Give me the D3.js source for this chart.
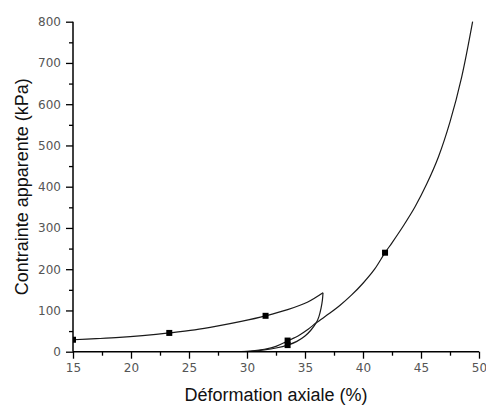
<!DOCTYPE html>
<html>
<head>
<meta charset="utf-8">
<script src="https://cdn.jsdelivr.net/npm/d3@7"></script>
<style>
html,body{margin:0;padding:0;background:#fff;}
svg{display:block;}
</style>
</head>
<body>
<svg id="chart" width="486" height="407"></svg>
<script>
// Loading curve (first cycle)
const loading1X = [15, 17, 19, 21, 23.3, 25.5, 27.4, 29.5, 31.6, 33.5, 35.2, 36.55];
const loading1Y = [29, 31.5, 34.5, 39, 45.5, 53, 62, 73.5, 87, 102, 120, 143];
// Unloading curve
const unloadX = [29.5, 30.5, 31.5, 32.5, 33.5, 34.3, 35, 35.5, 35.97, 36.2, 36.38, 36.5, 36.55];
const unloadY = [0, 1.5, 4.5, 9, 16, 25, 38, 52, 70, 85, 105, 125, 143];
// Reloading / final loading curve
const reloadX = [29.5, 30.5, 31.5, 32.5, 33.5, 34.5, 35.3, 35.97, 37.12, 38, 39, 40, 41, 41.9, 42.5, 43.5, 44.5, 45.5, 46.5, 47.5, 48.5, 49.45];
const reloadY = [0, 2, 6, 13, 26, 40, 55, 70, 93, 112, 137, 166, 200, 240, 264, 306, 352, 407, 472, 557, 665, 800];
// Markers
const markerX = [15, 23.3, 31.6, 33.5, 33.5, 41.9];
const markerY = [29, 45.5, 87, 16, 27, 240];

const xTicks = [15, 20, 25, 30, 35, 40, 45, 50];
const xMinor = [17.5, 22.5, 27.5, 32.5, 37.5, 42.5, 47.5];
const yTicks = [0, 100, 200, 300, 400, 500, 600, 700, 800];
const yMinor = [50, 150, 250, 350, 450, 550, 650, 750];

const svg = d3.select("#chart");
const mLeft = 73, mRight = 479, mTop = 21.7, mBottom = 351.7;
const x = d3.scaleLinear().domain([15, 50]).range([mLeft, mRight]);
const y = d3.scaleLinear().domain([0, 800]).range([mBottom, mTop]);

svg.append("defs").append("clipPath").attr("id", "clip")
  .append("rect").attr("x", mLeft).attr("y", 0).attr("width", mRight - mLeft + 10).attr("height", mBottom);

const g = svg.append("g").attr("clip-path", "url(#clip)");
const line = d3.line().x(d => x(d[0])).y(d => y(d[1])).curve(d3.curveCatmullRom.alpha(0.5));
const series = [
  d3.zip(loading1X, loading1Y),
  d3.zip(unloadX, unloadY),
  d3.zip(reloadX, reloadY)
];
g.selectAll("path.s").data(series).join("path")
  .attr("class", "s")
  .attr("d", line)
  .attr("fill", "none")
  .attr("stroke", "#1a1a1a")
  .attr("stroke-width", 1.2);

g.selectAll("rect.m").data(d3.zip(markerX, markerY)).join("rect")
  .attr("class", "m")
  .attr("x", d => x(d[0]) - 3)
  .attr("y", d => y(d[1]) - 3)
  .attr("width", 6).attr("height", 6)
  .attr("fill", "#000");

// Axes
const fontTick = "'DejaVu Sans', sans-serif";
const xAxis = d3.axisBottom(x).tickValues(xTicks).tickSize(7).tickPadding(5).tickFormat(d3.format("d"));
const xg = svg.append("g").attr("transform", `translate(0,${mBottom})`).call(xAxis);
const xmg = svg.append("g").attr("transform", `translate(0,${mBottom})`)
  .call(d3.axisBottom(x).tickValues(xMinor).tickSize(4).tickFormat(""));
xmg.select(".domain").remove();

const yAxis = d3.axisLeft(y).tickValues(yTicks).tickSize(7).tickPadding(5).tickFormat(d3.format("d"));
const yg = svg.append("g").attr("transform", `translate(${mLeft},0)`).call(yAxis);
const ymg = svg.append("g").attr("transform", `translate(${mLeft},0)`)
  .call(d3.axisLeft(y).tickValues(yMinor).tickSize(4).tickFormat(""));
ymg.select(".domain").remove();

[xg, yg].forEach(a => {
  a.select(".domain").attr("stroke", "#000").attr("stroke-width", 1.5);
  a.selectAll(".tick line").attr("stroke", "#000").attr("stroke-width", 1.3);
  a.selectAll(".tick text").attr("font-family", fontTick).attr("font-size", 12).attr("fill", "#555");
});
[xmg, ymg].forEach(a => a.selectAll(".tick line").attr("stroke", "#000").attr("stroke-width", 1.3));
xg.select(".domain").attr("d", `M${mLeft},0H${mRight}`);
yg.select(".domain").attr("d", `M0,${mBottom}V${mTop}`);

// Titles
svg.append("text")
  .attr("x", (mLeft + mRight) / 2).attr("y", 401)
  .attr("text-anchor", "middle")
  .attr("font-family", "'Liberation Sans', Arial, sans-serif")
  .attr("font-size", 18).attr("fill", "#111")
  .text("Déformation axiale (%)");
svg.append("text")
  .attr("transform", `translate(28,${(mTop + mBottom) / 2}) rotate(-90)`)
  .attr("text-anchor", "middle")
  .attr("font-family", "'Liberation Sans', Arial, sans-serif")
  .attr("font-size", 18).attr("fill", "#111")
  .text("Contrainte apparente (kPa)");
</script>
</body>
</html>
